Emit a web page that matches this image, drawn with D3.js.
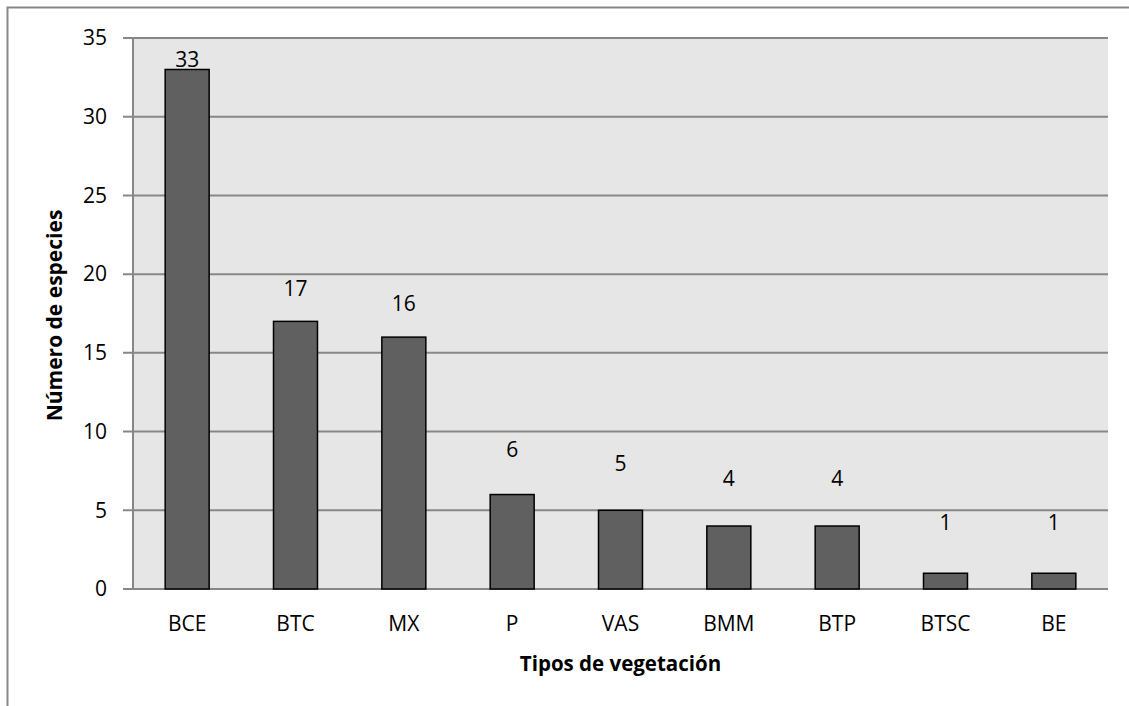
<!DOCTYPE html>
<html>
<head>
<meta charset="utf-8">
<script src="https://cdn.jsdelivr.net/npm/d3@7"></script>
<style>
  body { margin: 0; background: #fff; }
  text { font-family: "Open Sans", sans-serif; fill: #000; }
</style>
</head>
<body>
<div id="chart"></div>
<script>
var categories = ["BCE", "BTC", "MX", "P", "VAS", "BMM", "BTP", "BTSC", "BE"];
var especies = [33, 17, 16, 6, 5, 4, 4, 1, 1];
var yTicks = [0, 5, 10, 15, 20, 25, 30, 35];

var svgWidth = 1129;
var svgHeight = 706;
var margin = { top: 38, right: 21, bottom: 117, left: 133 };
var width = svgWidth - margin.left - margin.right;
var height = svgHeight - margin.top - margin.bottom;

var svg = d3.select("#chart")
    .append("svg")
    .attr("width", svgWidth)
    .attr("height", svgHeight);

// outer chart border (right/bottom fall outside the picture)
svg.append("rect")
    .attr("x", 7.5).attr("y", 7.5)
    .attr("width", 1140).attr("height", 720)
    .attr("fill", "none")
    .attr("stroke", "#878787")
    .attr("stroke-width", 2);

var chart = svg.append("g")
    .attr("transform", "translate(" + margin.left + "," + margin.top + ")");

var xScale = d3.scaleBand().domain(categories).range([0, width]).paddingInner(0.594).paddingOuter(0.297);
var yScale = d3.scaleLinear().domain([0, 35]).range([height, 0]);

chart.append("rect")
    .attr("width", width).attr("height", height)
    .attr("fill", "#e6e6e6");

// gridlines
chart.selectAll(".grid")
    .data(yTicks)
    .enter()
    .append("line")
    .attr("x1", -10).attr("x2", width)
    .attr("y1", function(d) { return yScale(d); })
    .attr("y2", function(d) { return yScale(d); })
    .attr("stroke", "#878787")
    .attr("stroke-width", 2);

// y axis line
chart.append("line")
    .attr("x1", 0).attr("x2", 0)
    .attr("y1", 0).attr("y2", height)
    .attr("stroke", "#878787")
    .attr("stroke-width", 2);

chart.selectAll(".ytick")
    .data(yTicks)
    .enter()
    .append("text")
    .attr("x", -26)
    .attr("y", function(d) { return yScale(d); })
    .attr("dy", "0.35em")
    .attr("text-anchor", "end")
    .style("font-size", "21px")
    .text(function(d) { return d; });

chart.selectAll(".bar")
    .data(especies)
    .enter()
    .append("rect")
    .attr("x", function(d, i) { return xScale(categories[i]); })
    .attr("y", function(d) { return yScale(d); })
    .attr("width", xScale.bandwidth())
    .attr("height", function(d) { return height - yScale(d); })
    .attr("fill", "#606060")
    .attr("stroke", "#000")
    .attr("stroke-width", 1.5);

// data labels
chart.selectAll(".label")
    .data(especies)
    .enter()
    .append("text")
    .attr("x", function(d, i) { return xScale(categories[i]) + xScale.bandwidth() / 2; })
    .attr("y", function(d) { return Math.max(yScale(d) - (52 - 1.14 * d), yScale(35) + 22); })
    .attr("dy", "0.35em")
    .attr("text-anchor", "middle")
    .style("font-size", "21px")
    .text(function(d) { return d; });

chart.selectAll(".xtick")
    .data(categories)
    .enter()
    .append("text")
    .attr("x", function(d) { return xScale(d) + xScale.bandwidth() / 2; })
    .attr("y", height + 35)
    .attr("text-anchor", "middle")
    .attr("dy", "0.35em")
    .style("font-size", "21px")
    .text(function(d) { return d; });

chart.append("text")
    .attr("x", width / 2)
    .attr("y", height + 75)
    .attr("dy", "0.35em")
    .attr("text-anchor", "middle")
    .style("font-size", "20.5px")
    .style("font-weight", "bold")
    .text("Tipos de vegetación");

chart.append("text")
    .attr("transform", "rotate(-90)")
    .attr("x", -height / 2 - 2)
    .attr("y", 55 - margin.left)
    .attr("dy", "0.35em")
    .attr("text-anchor", "middle")
    .style("font-size", "21px")
    .style("font-weight", "bold")
    .text("Número de especies");
</script>
</body>
</html>
